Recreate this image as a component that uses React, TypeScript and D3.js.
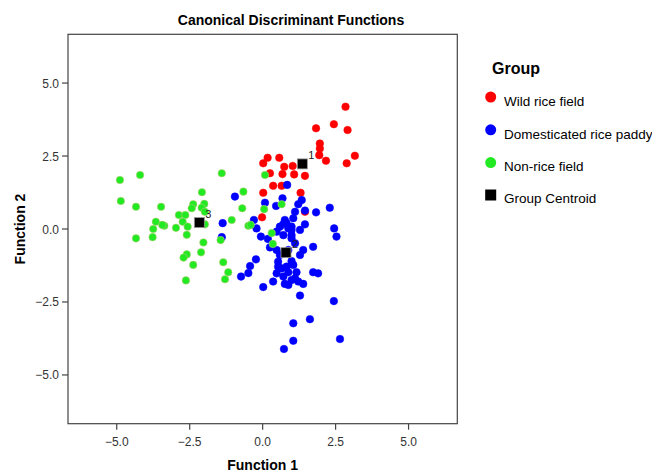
import React from 'react'
import * as d3 from 'd3'

// function scores, [function 1, function 2]
const wildRice: [number, number][] = [
  [2.84, 4.19], [2.44, 3.59], [1.83, 3.45], [2.91, 3.39], [1.96, 2.93], [1.96, 2.76],
  [1.94, 2.53], [2.17, 2.34], [3.16, 2.51], [2.88, 2.25], [0.17, 2.44], [0.02, 2.25],
  [0.57, 2.44], [1.03, 2.16], [0.74, 2.13], [0.25, 1.91], [0.68, 1.88], [1.08, 1.87],
  [1.45, 1.82], [0.36, 1.48], [0.65, 1.48], [1.3, 1.24], [0.02, 1.24], [1.45, 0.59],
  [-0.02, 0.4],
]

const domesticated: [number, number][] = [
  [-0.95, 1.11], [-1.37, 0.2], [-1.4, -0.28], [-0.3, 0.31], [-0.21, 0.02], [-0.06, -0.26],
  [0.18, -0.34], [0.25, -0.63], [0.08, 0.9], [0.46, 0.79], [0.84, 1.51], [0.68, 1.05],
  [1.34, 0.99], [1.22, 0.85], [1.11, 0.59], [1.45, 0.63], [1.83, 0.57], [2.3, 0.73],
  [-0.23, -1.04], [-0.43, -1.27], [-0.49, -1.51], [-0.74, -1.63], [0.02, -1.99], [0.71, 0.17],
  [0.88, 0.02], [1.45, 0.16], [1.28, -0.03], [2.45, 0.02], [2.53, -0.26], [0.48, -0.09],
  [0.99, -0.32], [1.11, -0.49], [1.39, -0.72], [1.73, -0.61], [0.48, -0.72], [0.88, -0.72],
  [1.28, -0.89], [0.53, -1.12], [0.99, -1.1], [0.65, -1.35], [0.48, -1.52], [0.88, -1.48],
  [1.16, -1.48], [1.73, -1.48], [1.9, -1.52], [0.36, -1.8], [0.76, -1.88], [1.22, -1.8],
  [1.39, -1.88], [1.28, -2.28], [0.71, -1.63], [0.99, -1.75], [2.44, -2.47], [1.62, -3.09],
  [1.05, -3.23], [1.05, -3.83], [0.73, -4.11], [2.65, -3.77], [0.71, -0.21], [0.99, -0.21],
  [0.99, -0.03], [0.82, 0.2], [0.99, 0.08], [0.59, -0.89], [0.53, -1.29], [0.82, -1.29],
  [1.05, -1.23], [1.11, -1.69], [0.88, -1.92], [0.59, 0.08], [0.76, 0.31], [1.05, 0.37],
]

const nonRice: [number, number][] = [
  [-4.89, 1.68], [-4.2, 1.85], [-4.86, 0.96], [-4.34, 0.76], [-3.48, 0.76], [-2.08, 1.26],
  [-2.38, 0.85], [-2.43, 0.71], [-2.0, 0.86], [-2.09, 0.73], [-1.98, 0.59], [-2.87, 0.48],
  [-2.65, 0.48], [-3.66, 0.25], [-2.74, 0.25], [-3.37, 0.11], [-3.44, 0.14], [-3.75, 0.0],
  [-2.97, 0.04], [-2.57, 0.08], [-1.98, 0.16], [-4.34, -0.32], [-3.77, -0.28], [-2.6, -0.2],
  [-2.03, -0.46], [-2.11, -0.8], [-2.6, -0.87], [-2.71, -0.98], [-2.38, -1.23], [-2.63, -1.76],
  [-1.4, 1.91], [-0.66, 1.28], [-0.7, 0.71], [-1.06, 0.31], [-0.49, 0.11], [-0.41, 0.14],
  [-1.44, -0.38], [-1.35, -1.14], [-1.18, -1.48], [-1.29, -1.72], [0.08, 1.85], [0.05, 0.68],
  [0.65, 0.85], [0.31, -0.14], [0.35, -0.51],
]

const centroidLabels = ['1', '2', '3']
const centroids: [number, number][] = [[1.36, 2.23], [0.8, -0.81], [-2.17, 0.22]]

const groupNames = ['Wild rice field', 'Domesticated rice paddy', 'Non-rice field']
const groupColors = ['#ff0000', '#0000ff', '#22ea22']
const ticks = [-5, -2.5, 0, 2.5, 5]

export default function App() {
  const width = 652
  const height = 472
  const box = { left: 68, right: 457.3, top: 34.3, bottom: 423.7 }
  const x = d3.scaleLinear().domain([-6.67, 6.67]).range([box.left, box.right])
  const y = d3.scaleLinear().domain([-6.67, 6.67]).range([box.bottom, box.top])
  const fmt = d3.format('.1f')
  const font = 'Liberation Sans, Arial, sans-serif'
  const groups = [wildRice, domesticated, nonRice]

  return (
    <svg width={width} height={height} style={{ position: 'absolute', left: 0, top: 0 }} fontFamily={font}>
      <rect x={0} y={0} width={width} height={height} fill="#fff" />
      <text x={291} y={25} textAnchor="middle" fontSize={14} fontWeight="bold">Canonical Discriminant Functions</text>

      {/* frame + ticks */}
      <rect x={box.left} y={box.top} width={box.right - box.left} height={box.bottom - box.top} fill="none" stroke="#444" strokeWidth={1.2} />
      {ticks.map(t => (
        <g key={'x' + t}>
          <line x1={x(t)} x2={x(t)} y1={box.bottom} y2={box.bottom + 6} stroke="#444" strokeWidth={1.2} />
          <text x={x(t)} y={446} textAnchor="middle" fontSize={12} fill="#333">{fmt(t)}</text>
        </g>
      ))}
      {ticks.map(t => (
        <g key={'y' + t}>
          <line x1={box.left - 6} x2={box.left} y1={y(t)} y2={y(t)} stroke="#444" strokeWidth={1.2} />
          <text x={59} y={y(t) + 4.5} textAnchor="end" fontSize={12} fill="#333">{fmt(t)}</text>
        </g>
      ))}
      <text x={x(0)} y={470} textAnchor="middle" fontSize={14} fontWeight="bold">Function 1</text>
      <text transform={`translate(25,${y(0)}) rotate(-90)`} textAnchor="middle" fontSize={14} fontWeight="bold">Function 2</text>

      {/* points */}
      {groups.map((pts, gi) => (
        <g key={gi} fill={groupColors[gi]}>
          {pts.map((p, i) => (
            <circle key={i} cx={x(p[0])} cy={y(p[1])} r={3.8} stroke={gi === 2 ? '#c8c880' : groupColors[gi]} strokeWidth={0.5} />
          ))}
        </g>
      ))}
      {centroids.map((c, i) => (
        <g key={'c' + i}>
          <rect x={x(c[0]) - 5} y={y(c[1]) - 5} width={10} height={10} fill="#000" stroke="#999" strokeWidth={0.8} />
          <text x={x(c[0]) + 6} y={y(c[1]) - 4.5} fontSize={11} fill="#222">{centroidLabels[i]}</text>
        </g>
      ))}

      {/* legend */}
      <text x={492} y={74} fontSize={16} fontWeight="bold">Group</text>
      {groupNames.map((name, i) => (
        <g key={name}>
          <circle cx={490.7} cy={97 + i * 32.8} r={5.5} fill={groupColors[i]} />
          <text x={504} y={106 + i * 32.5} fontSize={13.5}>{name}</text>
        </g>
      ))}
      <rect x={485.2} y={189.5} width={11} height={11} fill="#000" />
      <text x={504} y={203} fontSize={13.5}>Group Centroid</text>
    </svg>
  )
}
